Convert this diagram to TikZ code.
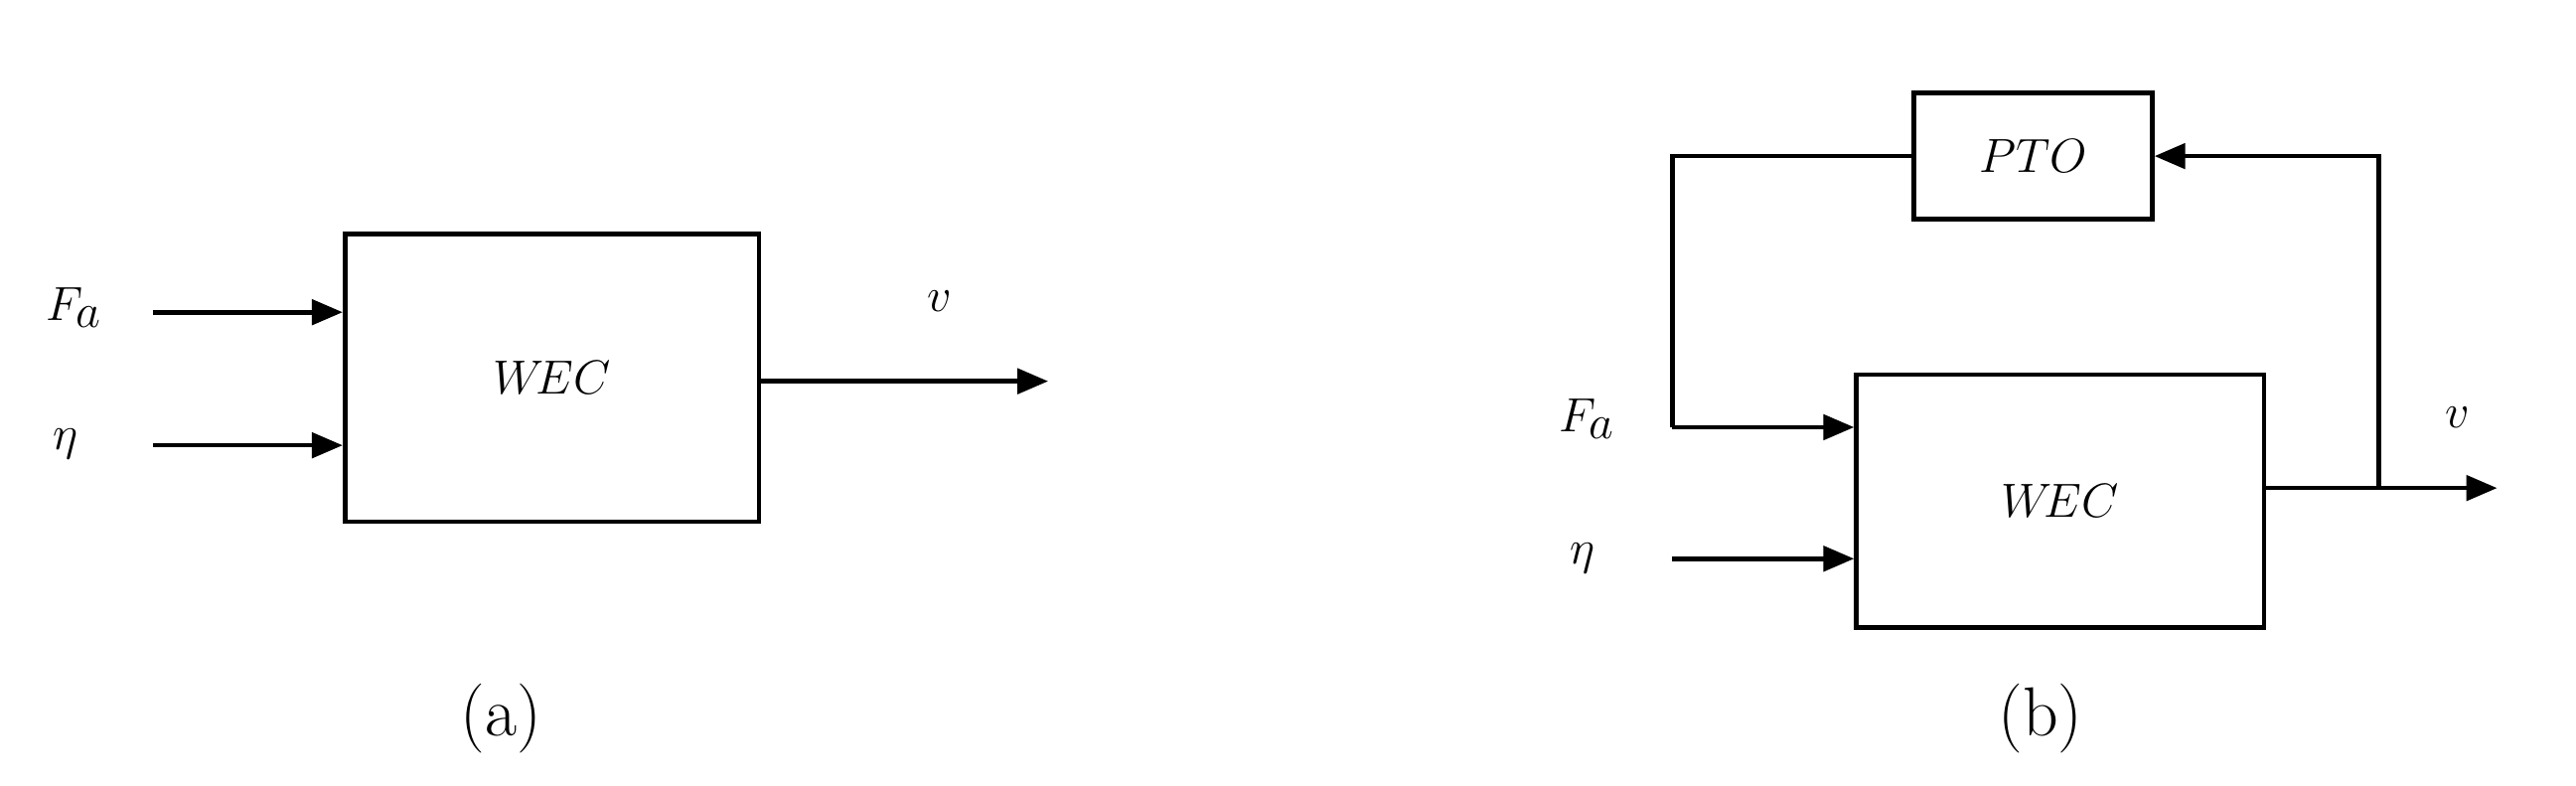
\documentclass[tikz,border=0pt]{standalone}
\usetikzlibrary{arrows.meta}
\begin{document}
\begin{tikzpicture}[x=0.03cm,y=-0.03cm,
  blk/.style={draw,line width=2.4pt,inner sep=0pt},
  con/.style={line width=2.4pt,-{Triangle[length=16pt,width=13pt]}},
  ln/.style={line width=2.4pt},
  lab/.style={font=\fontsize{36}{40}\selectfont}]
\useasboundingbox (0,0) rectangle (1568,478);
% (a)
\node[blk,minimum width=252*0.03cm,minimum height=175*0.03cm] (wa) at (336,230) {};
\node[lab] at (wa.center) {$W\!EC$};
\node[lab] (fa) at (45,187) {$F_a$};
\node[lab] (ea) at (40,270) {$\eta$};
\coordinate (fas) at (93,190); \coordinate (eas) at (93,271);
\draw[con] (fas) -- (fas -| wa.west);
\draw[con] (eas) -- (eas -| wa.west);
\coordinate (oa) at (638,232);
\draw[con] (wa.east |- oa) -- (oa);
\node[lab] (va) at (572,183) {$v$};
\node[lab] (ca) at (305,437) {(a)};
% (b)
\node[blk,minimum width=145*0.03cm,minimum height=77*0.03cm] (pto) at (1237.5,95) {};
\node[lab] at (pto.center) {$PTO$};
\node[blk,minimum width=248*0.03cm,minimum height=154*0.03cm] (wb) at (1254,305) {};
\node[lab] at (wb.center) {$W\!EC$};
\node[lab] (fb) at (966,255) {$F_a$};
\node[lab] (eb) at (963,340) {$\eta$};
\coordinate (fbs) at (1018,260); \coordinate (ebs) at (1018,340);
\draw[ln] (pto.west) -| (fbs);
\draw[con] (fbs) -- (fbs -| wb.west);
\draw[con] (ebs) -- (ebs -| wb.west);
\coordinate (ob) at (1520,297); \coordinate (br) at (1448,297);
\draw[con] (wb.east |- ob) -- (ob);
\draw[con] (br) |- (pto.east);
\node[lab] (vb) at (1496,254) {$v$};
\node[lab] (cb) at (1242,437) {(b)};
\end{tikzpicture}
\end{document}
